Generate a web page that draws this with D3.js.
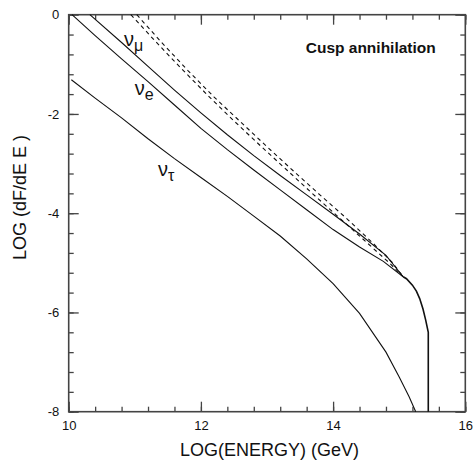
<!DOCTYPE html>
<html>
<head>
<meta charset="utf-8">
<script src="https://cdn.jsdelivr.net/npm/d3@7"></script>
<style>
  body { margin: 0; background: #fff; }
  text { font-family: Arial, "Liberation Sans", Helvetica, sans-serif; }
</style>
</head>
<body>
<div class="graphContainer"></div>
<script>
const xTicks = [10, 12, 14, 16],
  yTicks = [0, -2, -4, -6, -8];

// nu_e
const eX = [10.05, 10.4, 10.8, 11.2, 11.6, 12.0, 12.4, 12.8, 13.2, 13.6, 14.0, 14.4, 14.76, 15.06];
const eY = [0, -0.42, -0.89, -1.35, -1.82, -2.29, -2.72, -3.13, -3.53, -3.93, -4.33, -4.68, -4.97, -5.28];
// nu_mu
const muX = [10.32, 10.8, 11.2, 11.6, 12.0, 12.4, 12.8, 13.2, 13.6, 14.0, 14.4, 14.8, 15.06];
const muY = [0, -0.56, -1.04, -1.52, -1.98, -2.42, -2.84, -3.24, -3.63, -4.02, -4.42, -4.85, -5.28];
// nu_tau
const tauX = [10.04, 10.4, 10.8, 11.2, 11.6, 12.0, 12.4, 12.8, 13.2, 13.6, 14.0, 14.4, 14.8, 15.0, 15.15, 15.25];
const tauY = [-1.31, -1.68, -2.08, -2.50, -2.90, -3.28, -3.66, -4.06, -4.46, -4.92, -5.42, -6.02, -6.80, -7.30, -7.70, -8.0];
// dashed curves
const dashAX = [10.94, 11.3, 11.7, 12.1, 12.5, 12.9, 13.3, 13.7, 14.1, 14.5, 14.85, 15.06];
const dashAY = [0, -0.52, -1.08, -1.62, -2.14, -2.64, -3.13, -3.62, -4.10, -4.58, -5.0, -5.28];
const dashBX = [11.03, 11.4, 11.8, 12.2, 12.6, 13.0, 13.4, 13.8, 14.2, 14.6, 14.9, 15.06];
const dashBY = [0, -0.55, -1.12, -1.66, -2.16, -2.66, -3.15, -3.63, -4.10, -4.60, -5.0, -5.28];
// shared cut-off tail
const tailX = [15.06, 15.11, 15.2, 15.26, 15.31, 15.36, 15.40, 15.44, 15.44];
const tailY = [-5.28, -5.32, -5.45, -5.57, -5.72, -5.93, -6.15, -6.40, -8.0];

function draw() {
  const w = 473,
    h = 461,
    left = 68.7, right = 465.3, top = 14.7, bottom = 411.7;

  const x = d3.scaleLinear().domain([10, 16]).range([left, right]);
  const y = d3.scaleLinear().domain([-8, 0]).range([bottom, top]);

  const canvas = d3.select(".graphContainer")
    .append("svg")
    .attr("width", w)
    .attr("height", h);

  const minorX = d3.range(10, 16.01, 0.4),
    minorY = d3.range(-8, 0.01, 0.4);

  function styleAxis(g) {
    g.select(".domain").remove();
    g.selectAll("line").attr("stroke", "#444").attr("stroke-width", 1.3);
    g.selectAll("text").attr("font-family", "Arial, 'Liberation Sans', sans-serif")
      .attr("font-size", 13).attr("fill", "#111");
  }

  // bottom
  canvas.append("g").attr("transform", `translate(0,${bottom})`)
    .call(d3.axisBottom(x).tickValues(minorX).tickSize(-5).tickFormat(""))
    .call(styleAxis);
  canvas.append("g").attr("transform", `translate(0,${bottom})`)
    .call(d3.axisBottom(x).tickValues(xTicks).tickSize(-10).tickPadding(9).tickFormat(d3.format("d")))
    .call(styleAxis);
  // top
  canvas.append("g").attr("transform", `translate(0,${top})`)
    .call(d3.axisTop(x).tickValues(minorX).tickSize(-5).tickFormat(""))
    .call(styleAxis);
  canvas.append("g").attr("transform", `translate(0,${top})`)
    .call(d3.axisTop(x).tickValues(xTicks).tickSize(-10).tickFormat(""))
    .call(styleAxis);
  // left
  canvas.append("g").attr("transform", `translate(${left},0)`)
    .call(d3.axisLeft(y).tickValues(minorY).tickSize(-5).tickFormat(""))
    .call(styleAxis);
  canvas.append("g").attr("transform", `translate(${left},0)`)
    .call(d3.axisLeft(y).tickValues(yTicks).tickSize(-10).tickPadding(9.5).tickFormat(d => d3.format("d")(d).replace("−", "-")))
    .call(styleAxis);
  // right
  canvas.append("g").attr("transform", `translate(${right},0)`)
    .call(d3.axisRight(y).tickValues(minorY).tickSize(-5).tickFormat(""))
    .call(styleAxis);
  canvas.append("g").attr("transform", `translate(${right},0)`)
    .call(d3.axisRight(y).tickValues(yTicks).tickSize(-10).tickFormat(""))
    .call(styleAxis);

  canvas.append("rect")
    .attr("x", left)
    .attr("y", top)
    .attr("width", right - left)
    .attr("height", bottom - top)
    .attr("fill", "none")
    .attr("stroke", "#444")
    .attr("stroke-width", 1.6);

  const line = d3.line()
    .x(function (d) { return x(d[0]); })
    .y(function (d) { return y(d[1]); });

  const curves = [
    { xs: eX, ys: eY, dash: null },
    { xs: muX, ys: muY, dash: null },
    { xs: tauX, ys: tauY, dash: null },
    { xs: dashAX, ys: dashAY, dash: "4,3.5" },
    { xs: dashBX, ys: dashBY, dash: "4,3.5" },
    { xs: tailX, ys: tailY, dash: null }
  ];

  canvas.selectAll("path.curve")
    .data(curves)
    .enter()
    .append("path")
    .attr("class", "curve")
    .attr("d", function (c) { return line(c.xs.map(function (v, i) { return [v, c.ys[i]]; })); })
    .attr("fill", "none")
    .attr("stroke", "#111")
    .attr("stroke-width", function (c, i) { return i === 5 ? 1.6 : 1.1; })
    .attr("stroke-dasharray", function (c) { return c.dash; });

  // curve labels
  const labels = [
    { sub: "μ", at: [10.836, -0.64] },
    { sub: "e", at: [11.0, -1.62] },
    { sub: "τ", at: [11.35, -3.26] }
  ];
  const lab = canvas.selectAll("text.nu")
    .data(labels)
    .enter()
    .append("text")
    .attr("class", "nu")
    .attr("x", function (d) { return x(d.at[0]); })
    .attr("y", function (d) { return y(d.at[1]); })
    .attr("font-size", 20)
    .attr("fill", "#111");
  lab.append("tspan").text("ν");
  lab.append("tspan")
    .attr("dy", 5)
    .attr("font-size", 16)
    .text(function (d) { return d.sub; });

  canvas.append("text")
    .attr("x", x(15.553))
    .attr("y", y(-0.78))
    .attr("text-anchor", "end")
    .attr("font-size", 15.5)
    .attr("font-weight", "bold")
    .attr("fill", "#111")
    .text("Cusp annihilation");

  canvas.append("text")
    .attr("x", 269.5)
    .attr("y", 456)
    .attr("text-anchor", "middle")
    .attr("font-size", 18)
    .attr("fill", "#111")
    .text("LOG(ENERGY) (GeV)");

  canvas.append("text")
    .attr("transform", "translate(25.7,197.5) rotate(-90)")
    .attr("text-anchor", "middle")
    .attr("font-size", 18)
    .attr("fill", "#111")
    .text("LOG (dF/dE E )");
}

draw();
</script>
</body>
</html>
